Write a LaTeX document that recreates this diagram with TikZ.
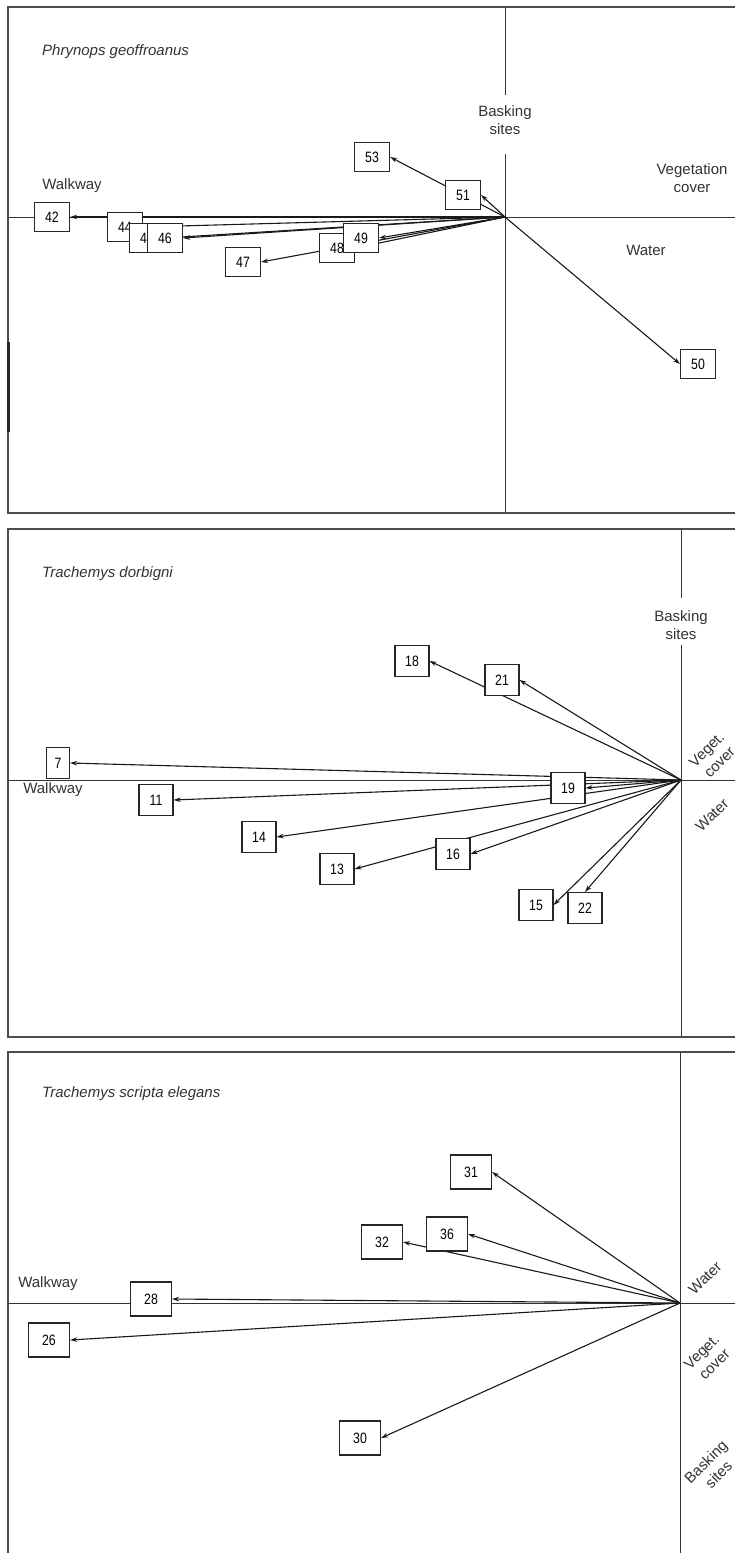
\documentclass[tikz,border=0pt]{standalone}
\usepackage{fontspec}
\setmainfont{Liberation Sans}
\newfontfamily\numfont[FakeStretch=0.82]{Liberation Sans}
\usetikzlibrary{arrows.meta}
\pgfdeclarelayer{paper}
\pgfdeclarelayer{bg}
\pgfsetlayers{paper,bg,main}
\tikzset{
  box/.style={draw=black!85, line width=1.1pt, fill=white, minimum width=35pt,
    minimum height=29pt, inner sep=0pt, font=\numfont\fontsize{15}{15}\selectfont},
  boxb/.style={box, minimum height=31pt, minimum width=34pt},
  boxc/.style={box, minimum height=34pt, minimum width=41pt},
  vec/.style={line width=1.1pt, draw=black!90, -{Stealth[length=7pt,width=4.5pt]}},
  frame/.style={draw=black!70, line width=1.6pt},
  axis/.style={draw=black!80, line width=1pt},
  lab/.style={font=\fontsize{15}{18}\selectfont, text=black!80, align=center, inner sep=0pt},
  ttl/.style={font=\itshape\fontsize{15}{18}\selectfont, text=black!80, anchor=west, inner sep=0pt},
}
\begin{document}
\begin{tikzpicture}[x=1pt,y=-1pt]
\useasboundingbox (0,0) rectangle (735,1553);
\begin{pgfonlayer}{paper}
\fill[white] (0,0) rectangle (735,1553);
\end{pgfonlayer}

% ---------------- Panel 1 ----------------
\coordinate (o1) at (505,217);
\coordinate (f1a) at (735,7); \coordinate (f1b) at (8,7);
\coordinate (f1c) at (8,513); \coordinate (f1d) at (735,513);
\draw[frame] (f1a) -- (f1b) -- (f1c) -- (f1d);
\coordinate (m1a) at (8,342); \coordinate (m1b) at (8,432);
\draw[line width=3pt, black!85] (m1a) -- (m1b);
\coordinate (h1a) at (8,217); \coordinate (h1b) at (735,217);
\coordinate (v1a) at (505,7); \coordinate (v1b) at (505,95);
\coordinate (v1c) at (505,154); \coordinate (v1d) at (505,513);

\node[ttl] (t1) at (42,52) {Phrynops geoffroanus};
\node[lab] (bask1) at (505,120) {Basking\\sites};
\node[lab] (veg1) at (692,178) {Vegetation\\cover};
\node[lab] (wat1) at (646,250) {Water};
\node[lab] (walk1) at (72,186) {Walkway};

\node[box] (b42) at (52,217) {42};
\node[box] (b44) at (125,227) {44};
\node[box] (b45) at (147,238) {4\phantom{5}};
\node[box] (b46) at (165,238) {46};
\node[box] (b47) at (243,262) {47};
\node[box] (b48) at (337,248) {48};
\node[box] (b49) at (361,238) {49};
\node[box] (b50) at (698,364) {50};
\node[box] (b51) at (463,195) {51};
\node[box] (b53) at (372,157) {53};

\begin{pgfonlayer}{bg}
\draw[axis] (h1a) -- (h1b);
\draw[axis] (v1a) -- (v1b);
\draw[axis] (v1c) -- (v1d);
\draw[vec] (o1) -- (b42.east);
\draw[vec] (o1) -- (b44.east);
\draw[vec] (o1) -- (b45.east);
\draw[vec] (o1) -- (b46.east);
\draw[vec] (o1) -- (b47.east);
\draw[vec] (o1) -- (b48.east);
\draw[vec] (o1) -- (b49.east);
\draw[vec] (o1) -- (b50.west);
\draw[vec] (o1) -- (b51.east);
\draw[vec] (o1) -- (b53.east);
\end{pgfonlayer}

% ---------------- Panel 2 ----------------
\coordinate (o2) at (681,780);
\coordinate (f2a) at (735,529); \coordinate (f2b) at (8,529);
\coordinate (f2c) at (8,1037); \coordinate (f2d) at (735,1037);
\draw[frame] (f2a) -- (f2b) -- (f2c) -- (f2d);
\coordinate (h2a) at (8,780); \coordinate (h2b) at (735,780);
\coordinate (v2a) at (681,529); \coordinate (v2b) at (681,598);
\coordinate (v2c) at (681,645); \coordinate (v2d) at (681,1037);

\node[ttl] (t2) at (42,574) {Trachemys dorbigni};
\node[lab] (bask2) at (681,625) {Basking\\sites};
\node[lab, rotate=45] (veg2) at (713,756) {Veget.\\cover};
\node[lab, rotate=45] (wat2) at (712,815) {Water};
\node[lab] (walk2) at (53,790) {Walkway};

\node[boxb] (b18) at (412,661) {18};
\node[boxb] (b21) at (502,680) {21};
\node[boxb, minimum width=23pt] (b7) at (58,763) {7};
\node[boxb] (b11) at (156,800) {11};
\node[boxb] (b19) at (568,788) {19};
\node[boxb] (b14) at (259,837) {14};
\node[boxb] (b16) at (453,854) {16};
\node[boxb] (b13) at (337,869) {13};
\node[boxb] (b15) at (536,905) {15};
\node[boxb] (b22) at (585,908) {22};

\begin{pgfonlayer}{bg}
\draw[axis] (h2a) -- (h2b);
\draw[axis] (v2a) -- (v2b);
\draw[axis] (v2c) -- (v2d);
\draw[vec] (o2) -- (b18.east);
\draw[vec] (o2) -- (b21.east);
\draw[vec] (o2) -- (b7.east);
\draw[vec] (o2) -- (b11.east);
\draw[vec] (o2) -- (b19.east);
\draw[vec] (o2) -- (b14.east);
\draw[vec] (o2) -- (b16.east);
\draw[vec] (o2) -- (b13.east);
\draw[vec] (o2) -- (b15.east);
\draw[vec] (o2) -- (b22.north);
\end{pgfonlayer}

% ---------------- Panel 3 ----------------
\coordinate (o3) at (680,1303);
\coordinate (f3a) at (735,1052); \coordinate (f3b) at (8,1052);
\coordinate (f3c) at (8,1553);
\draw[frame] (f3a) -- (f3b) -- (f3c);
\coordinate (h3a) at (8,1303); \coordinate (h3b) at (735,1303);
\coordinate (v3a) at (680,1052); \coordinate (v3b) at (680,1553);

\node[ttl] (t3) at (42,1094) {Trachemys scripta elegans};
\node[lab, rotate=45] (wat3) at (705,1278) {Water};
\node[lab, rotate=45] (veg3) at (708,1358) {Veget.\\cover};
\node[lab, rotate=45] (bask3) at (712,1468) {Basking\\sites};
\node[lab] (walk3) at (48,1284) {Walkway};

\node[boxc] (b31) at (471,1172) {31};
\node[boxc] (b36) at (447,1234) {36};
\node[boxc] (b32) at (382,1242) {32};
\node[boxc] (b28) at (151,1299) {28};
\node[boxc] (b26) at (49,1340) {26};
\node[boxc] (b30) at (360,1438) {30};

\begin{pgfonlayer}{bg}
\draw[axis] (h3a) -- (h3b);
\draw[axis] (v3a) -- (v3b);
\draw[vec] (o3) -- (b31.east);
\draw[vec] (o3) -- (b36.east);
\draw[vec] (o3) -- (b32.east);
\draw[vec] (o3) -- (b28.east);
\draw[vec] (o3) -- (b26.east);
\draw[vec] (o3) -- (b30.east);
\end{pgfonlayer}
\end{tikzpicture}
\end{document}
